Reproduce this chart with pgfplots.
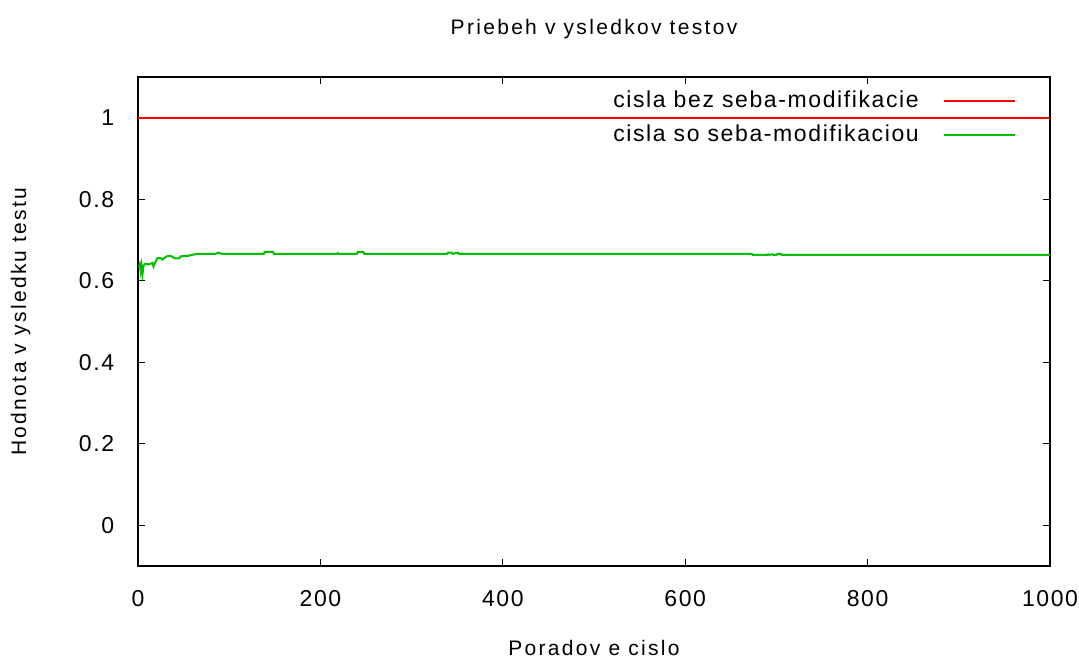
\documentclass[border=0pt]{standalone}
\usepackage{fontspec}
\setmainfont{Liberation Sans}
\newfontfamily\lswide[LetterSpace=11]{Liberation Sans}
\newfontfamily\lsnarrow[LetterSpace=7]{Liberation Sans}
\usepackage{pgfplots}
\pgfplotsset{compat=1.18}
\definecolor{gpred}{RGB}{255,0,0}
\definecolor{gpgreen}{RGB}{0,192,0}
\begin{document}
\fontsize{23}{27}\selectfont
\begin{tikzpicture}
\path[use as bounding box] (0pt,0pt) rectangle (1079pt,662pt);
\begin{axis}[at={(138pt,96pt)}, anchor=south west,
  scale only axis, width=912pt, height=489pt,
  xmin=0, xmax=1000, ymin=-0.1, ymax=1.1,
  xtick={0,200,...,1000}, ytick={0,0.2,...,1},
  tick align=inside, major tick length=7pt,
  xtick pos=both, ytick pos=both,
  axis line style={line width=1.4pt},
  tick style={line width=1.2pt, black},
  /pgf/number format/assume math mode=true,
  /pgf/number format/1000 sep={},
  ticklabel style={font=\lsnarrow\fontsize{23}{27}\selectfont},
  xticklabel style={yshift=-17pt},
  yticklabel style={xshift=-16pt},
  title={Priebeh v ysledkov testov},
  title style={font=\lswide\fontsize{21}{25}\selectfont, yshift=24pt},
  xlabel={Poradov e cislo},
  xlabel style={font=\lswide\fontsize{21}{25}\selectfont, yshift=-18pt},
  ylabel={Hodnota v ysledku testu},
  ylabel style={font=\lswide\fontsize{21}{25}\selectfont, yshift=33pt},
  legend style={draw=none, fill=none, at={(0.966,0.981)}, anchor=north east,
    font=\lsnarrow\fontsize{23}{27}\selectfont, row sep=10pt},
  legend cell align=right,
  legend plot pos=right,
  legend image code/.code={\path (0pt,0pt); \draw[#1, line width=2pt] (22pt,0pt) -- (93pt,0pt);},
]
\addplot[gpred, line width=2pt] coordinates {(0,1) (1000,1)};
\addlegendentry{cisla bez seba-modifikacie}
\addplot[gpgreen, line width=2pt] coordinates {
(1,0.632) (2,0.640) (3,0.622) (4,0.638) (5,0.618) (6,0.636) (8,0.642)
(12,0.640) (16,0.644) (17,0.635) (19,0.645) (21,0.655) (25,0.656)
(27,0.652) (30,0.658) (33,0.661) (37,0.660) (40,0.655) (45,0.655)
(47,0.660) (55,0.661) (60,0.664) (66,0.666) (85,0.666) (88,0.669)
(92,0.666) (138,0.666) (139,0.671) (148,0.671) (149,0.666) (150,0.665)
(151,0.666) (218,0.666) (219,0.668) (220,0.666) (240,0.666) (241,0.671)
(247,0.671) (248,0.666) (339,0.666) (340,0.669) (344,0.669) (345,0.666)
(351,0.669) (352,0.666) (673,0.666) (674,0.6635) (690,0.6635) (691,0.665)
(692,0.6635) (695,0.665) (696,0.6635) (700,0.6635) (701,0.666) (705,0.666)
(706,0.6635) (1000,0.6635)};
\addlegendentry{cisla so seba-modifikaciou}
\end{axis}
\end{tikzpicture}
\end{document}
